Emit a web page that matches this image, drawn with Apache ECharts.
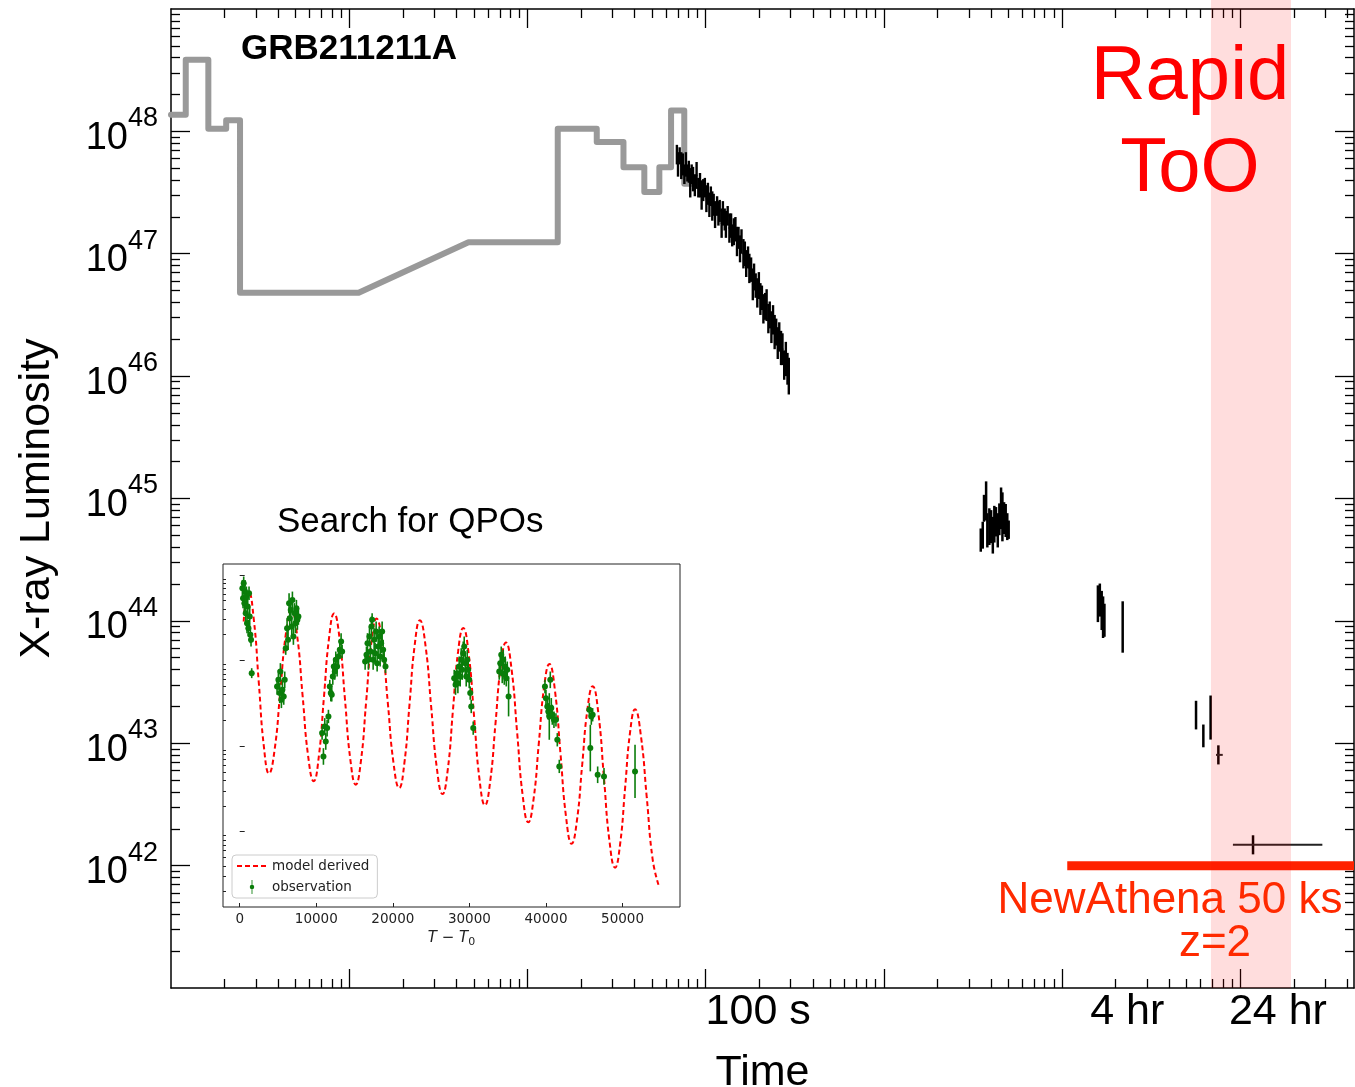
<!DOCTYPE html>
<html>
<head>
<meta charset="utf-8">
<title>GRB211211A X-ray light curve</title>
<script src="https://cdn.jsdelivr.net/npm/echarts@6/dist/echarts.min.js"></script>
<style>
  html, body { margin: 0; padding: 0; background: #fff; }
  #main { width: 1355px; height: 1087px; }
</style>
</head>
<body>
<div id="main"></div>
<script>
// ---------------- data ----------------
// Prompt emission, vertices of the stepped light curve (time in s, luminosity in erg/s)
const promptTime = [0.1, 0.121, 0.121, 0.162, 0.162, 0.204, 0.204, 0.244, 0.244, 1.13, 4.67, 14.8, 14.8, 24.5, 24.5, 34.6, 34.6, 45.3, 45.3, 55.0, 55.0, 64.0, 64.0, 75.9, 75.9, 86.7];
const promptLum = [1.37e48, 1.37e48, 3.85e48, 3.85e48, 1.05e48, 1.05e48, 1.23e48, 1.23e48, 4.8e46, 4.8e46, 1.24e47, 1.24e47, 1.05e48, 1.05e48, 8.2e47, 8.2e47, 5.1e47, 5.1e47, 3.2e47, 3.2e47, 5.1e47, 5.1e47, 1.48e48, 1.48e48, 3.73e47, 3.73e47];

// Early X-ray afterglow (dense window): time (s), log10 luminosity, 1-sigma error (dex)
const xrtTime = [69, 70, 71.5, 73, 74.5, 76, 77.5, 79, 80.5, 82, 83.5, 85, 87, 89, 91, 93, 95, 97, 99, 101,
  103, 105, 107, 109, 111, 113, 116, 118, 120, 123, 125, 128, 130, 133, 136, 139, 141, 144, 147, 150,
  153, 156, 159, 163, 166, 169, 173, 176, 180, 184, 187, 191, 195, 199, 203, 207, 211, 216, 220, 225,
  229, 234, 239, 244, 249, 254, 259, 265, 270, 276, 282, 288, 293];
const xrtLogL = [47.81, 47.73, 47.80, 47.72, 47.73, 47.65, 47.73, 47.66, 47.67, 47.58, 47.65, 47.61, 47.56, 47.64, 47.54, 47.56, 47.48, 47.52, 47.54, 47.45,
  47.49, 47.40, 47.47, 47.39, 47.40, 47.32, 47.39, 47.33, 47.35, 47.25, 47.33, 47.28, 47.24, 47.31, 47.21, 47.23, 47.15, 47.18, 47.20, 47.10,
  47.13, 47.04, 47.10, 47.00, 47.00, 46.92, 46.97, 46.88, 46.87, 46.75, 46.81, 46.74, 46.68, 46.74, 46.63, 46.64, 46.55, 46.57, 46.58, 46.47,
  46.50, 46.40, 46.46, 46.36, 46.36, 46.27, 46.32, 46.23, 46.22, 46.09, 46.14, 46.06, 46.00];
const xrtErr = [0.08, 0.10, 0.07, 0.11, 0.09, 0.08, 0.10, 0.07, 0.09, 0.12, 0.08, 0.10, 0.09, 0.11, 0.08, 0.10, 0.12, 0.09, 0.08, 0.11,
  0.09, 0.10, 0.08, 0.12, 0.09, 0.11, 0.08, 0.10, 0.09, 0.12, 0.10, 0.09, 0.11, 0.08, 0.12, 0.10, 0.09, 0.11, 0.10, 0.12,
  0.09, 0.11, 0.10, 0.12, 0.10, 0.11, 0.09, 0.12, 0.10, 0.13, 0.11, 0.10, 0.12, 0.11, 0.13, 0.10, 0.12, 0.11, 0.13, 0.12,
  0.11, 0.13, 0.12, 0.14, 0.11, 0.13, 0.12, 0.14, 0.13, 0.12, 0.14, 0.13, 0.15];

// Later X-ray observations: time (s), log10 luminosity, error (dex), time bin edges (null = narrow bin)
const lateTime = [3500, 3590, 3650, 3750, 3810, 3910, 4000, 4090, 4170, 4260, 4360, 4450, 4550, 4630, 4730, 4830, 4930, 5020,
  15900, 16300, 16700, 17000, 17300, 21900,
  56500, 62100, 68200, 75400,
  118000];
const lateLogL = [44.66, 44.70, 44.92, 44.98, 44.74, 44.77, 44.77, 44.70, 44.79, 44.81, 44.74, 44.83, 44.92, 44.85, 44.84, 44.82, 44.77, 44.745,
  44.14, 44.17, 44.085, 44.03, 44.005, 43.95,
  43.23, 43.06, 43.21, 42.905,
  42.17];
const lateErr = [0.095, 0.11, 0.11, 0.16, 0.14, 0.15, 0.135, 0.15, 0.15, 0.12, 0.14, 0.13, 0.17, 0.20, 0.13, 0.135, 0.11, 0.075,
  0.15, 0.135, 0.16, 0.17, 0.135, 0.21,
  0.117, 0.093, 0.18, 0.078,
  0.078];
const lateTmin = [null, null, null, null, null, null, null, null, null, null, null, null, null, null, null, null, null, null,
  null, null, null, null, null, null,
  null, null, null, 73100,
  91000];
const lateTmax = [null, null, null, null, null, null, null, null, null, null, null, null, null, null, null, null, null, null,
  null, null, null, null, null, null,
  null, null, null, 79800,
  289000];

// NewAthena 50 ks sensitivity at z=2, and the rapid ToO window
const athenaStart = 10700;
const athenaLum = 1e42;
const tooStart = 68500;
const tooEnd = 192800;

// Time-axis labels
const timeTickValues = [100, 14400, 86400];
const timeTickTexts = ['100 s', '4 hr', '24 hr'];

// QPO inset: model curve (T - T0 in s, log10 rate)
const modelTime = [523, 840, 1160, 1828, 2495, 3163, 3830, 4563, 5295, 6028, 6760, 7488, 8215, 8943, 9670,
  10335, 11000, 11665, 12330, 13038, 13745, 14453, 15160, 15838, 16515, 17193, 17870, 18610, 19350, 20090, 20830,
  21505, 22180, 22855, 23530, 24270, 25010, 25750, 26490, 27165, 27840, 28515, 29190, 29900, 30610, 31320, 32030,
  32715, 33400, 34085, 34770, 35500, 36230, 36960, 37690, 38378, 39065, 39753, 40440, 41168, 41895, 42623, 43350,
  44038, 44725, 45413, 46100, 46830, 47560, 48290, 49020, 49673, 50325, 50978, 51630, 52395, 53160, 53925, 54690];
const modelLogRate = [0.455, 0.72, 0.80, 0.49, -0.26, -1.01, -1.32, -1.04, -0.365, 0.31, 0.59, 0.30, -0.41, -1.12, -1.41,
  -1.12, -0.43, 0.26, 0.55, 0.26, -0.45, -1.16, -1.45, -1.17, -0.48, 0.21, 0.49, 0.20, -0.50, -1.20, -1.49,
  -1.20, -0.51, 0.18, 0.47, 0.17, -0.545, -1.26, -1.56, -1.28, -0.59, 0.10, 0.38, 0.08, -0.655, -1.39, -1.69,
  -1.41, -0.74, -0.07, 0.21, -0.10, -0.84, -1.58, -1.89, -1.62, -0.965, -0.31, -0.04, -0.35, -1.09, -1.83, -2.14,
  -1.87, -1.22, -0.57, -0.30, -0.61, -1.36, -2.11, -2.42, -2.15, -1.495, -0.84, -0.57, -0.88, -1.60, -2.32, -2.62];

// QPO inset: observed points (T - T0 in s, log10 rate, error in dex)
const qpoTime = [348, 436, 523, 610, 697, 784, 871, 958, 1046, 1133, 1220, 1307, 1394, 1481, 1568,
  4879, 5054, 5228, 5315, 5446, 5577, 5751, 5882, 6012, 6187, 6317, 6448, 6535, 6666, 6797, 6884, 7014, 7145, 7276, 7407, 7537, 7668,
  10761, 10935, 11110, 11240, 11415, 11589, 11763, 11894, 12024, 12155, 12286, 12417, 12547, 12721, 12896, 13070, 13244, 13375,
  16381, 16556, 16687, 16817, 16948, 17079, 17209, 17296, 17427, 17557, 17688, 17819, 17949, 18080, 18211, 18341, 18472, 18603, 18734, 18864, 19039,
  28013, 28188, 28362, 28493, 28667, 28798, 28928, 29059, 29190, 29321, 29451, 29582, 29713, 29843, 29974, 30105, 30236, 30497,
  33895, 34025, 34156, 34287, 34417, 34548, 34679, 34809, 34940, 35115,
  39864, 39994, 40168, 40299, 40430, 40560, 40691, 40822, 41040, 41301, 41476, 41737,
  45658, 45789, 45919, 46094, 46747, 47575,
  51627];
const qpoLogRate = [0.844, 0.728, 0.903, 0.669, 0.805, 0.553, 0.747, 0.436, 0.630, 0.377, 0.786, 0.514, 0.300, 0.241, -0.148,
  -0.304, -0.226, -0.381, -0.128, -0.459, -0.342, -0.420, -0.226, 0.144, 0.377, 0.241, 0.669, 0.494, 0.591, 0.397, 0.708, 0.280, 0.553, 0.436, 0.611, 0.475, 0.514,
  -0.848, -1.121, -0.770, -0.946, -0.790, -0.654, -0.304, -0.381, -0.401, -0.187, -0.070, -0.128, 0.008, -0.070, 0.047, 0.125, 0.222, 0.105,
  -0.012, 0.066, 0.202, 0.008, 0.280, 0.105, 0.397, 0.475, 0.008, 0.241, 0.086, 0.339, -0.031, 0.163, 0.280, 0.047, 0.202, 0.339, 0.125, 0.008, -0.070,
  -0.206, -0.284, -0.148, -0.265, -0.070, -0.187, 0.008, -0.109, 0.086, 0.163, -0.031, -0.187, 0.008, -0.109, -0.226, -0.381, -0.537, -0.790,
  -0.128, -0.031, 0.066, -0.148, 0.008, -0.167, -0.070, -0.206, -0.109, -0.420,
  -0.304, -0.440, -0.537, -0.595, -0.654, -0.226, -0.556, -0.634, -0.693, -0.693, -0.926, -1.237,
  -0.576, -1.023, -0.654, -0.634, -1.335, -1.354,
  -1.296];
const qpoErr = [0.097, 0.117, 0.078, 0.097, 0.136, 0.117, 0.117, 0.117, 0.117, 0.097, 0.078, 0.117, 0.097, 0.078, 0.058,
  0.097, 0.117, 0.117, 0.097, 0.097, 0.117, 0.097, 0.097, 0.078, 0.117, 0.117, 0.117, 0.136, 0.117, 0.117, 0.097, 0.097, 0.117, 0.117, 0.097, 0.117, 0.097,
  0.078, 0.097, 0.097, 0.097, 0.097, 0.078, 0.078, 0.097, 0.078, 0.097, 0.097, 0.097, 0.097, 0.117, 0.097, 0.097, 0.097, 0.078,
  0.097, 0.097, 0.117, 0.117, 0.117, 0.117, 0.117, 0.078, 0.117, 0.136, 0.117, 0.117, 0.097, 0.136, 0.117, 0.117, 0.117, 0.117, 0.117, 0.097, 0.078,
  0.097, 0.117, 0.097, 0.117, 0.117, 0.117, 0.136, 0.117, 0.136, 0.117, 0.136, 0.117, 0.117, 0.097, 0.097, 0.078, 0.078, 0.078,
  0.097, 0.117, 0.097, 0.117, 0.117, 0.117, 0.117, 0.097, 0.097, 0.233,
  0.078, 0.097, 0.117, 0.097, 0.272, 0.097, 0.117, 0.117, 0.097, 0.078, 0.078, 0.078,
  0.078, 0.272, 0.097, 0.078, 0.097, 0.097,
  0.311];

// ---------------- axis ranges ----------------
const xMin = 0.1, xMax = 4.35e5;
const yMin = 1e41, yMax = 1e49;
const bandTop = 1.2e49;   // the ToO band runs up to the page edge, past the frame
const insetXMin = -2180, insetXMax = 57500;
const insetYMin = 1.32e-3, insetYMax = 13.4;
const insetXTicks = [0, 10000, 20000, 30000, 40000, 50000];

const FONT = '"Liberation Sans", Arial, Helvetica, sans-serif';
const MPL_FONT = '"DejaVu Sans", sans-serif';

// minor log ticks 2..9 x 10^e
function logMinors(eLo, eHi, vMin, vMax) {
  const out = [];
  for (let e = eLo; e <= eHi; e++) {
    for (let k = 2; k <= 9; k++) {
      const v = k * Math.pow(10, e);
      if (v > vMin && v < vMax) out.push(v);
    }
  }
  return out;
}
function logMajors(eLo, eHi, vMin, vMax) {
  const out = [];
  for (let e = eLo; e <= eHi; e++) {
    const v = Math.pow(10, e);
    if (v >= vMin && v <= vMax) out.push(v);
  }
  return out;
}

const pw = v => Math.pow(10, v);

// ---------------- series data ----------------
const promptData = promptTime.map((t, i) => [t, promptLum[i]]);

// contiguous time bins: edges halfway (in log) between neighbouring samples
const xrtData = xrtTime.map((t, i) => {
  const L = pw(xrtLogL[i]);
  const lo = i > 0 ? Math.sqrt(xrtTime[i - 1] * t) : t;
  const hi = i < xrtTime.length - 1 ? Math.sqrt(xrtTime[i + 1] * t) : t;
  return [t, L * pw(-xrtErr[i]), L * pw(xrtErr[i]), L, lo, hi];
});
const lateData = lateTime.map((t, i) => {
  const L = pw(lateLogL[i]);
  return [t, L * pw(-lateErr[i]), L * pw(lateErr[i]), L, lateTmin[i] || t, lateTmax[i] || t];
});

const modelData = modelTime.map((t, i) => [t, pw(modelLogRate[i])]);
const qpoPoints = qpoTime.map((t, i) => [t, pw(qpoLogRate[i])]);
const qpoBars = qpoTime.map((t, i) => {
  const r = pw(qpoLogRate[i]);
  return [t, r * pw(-qpoErr[i]), r * pw(qpoErr[i]), r, t, t];
});

// vertical error bar plus optional horizontal time-bin bar
function errorBarRenderer(color, width, hColor, hWidth) {
  return function (params, api) {
    const t = api.value(0), lo = api.value(1), hi = api.value(2), lum = api.value(3);
    const t0 = api.value(4), t1 = api.value(5);
    const a = api.coord([t, lo]), b = api.coord([t, hi]);
    const children = [{
      type: 'line',
      shape: { x1: a[0], y1: a[1], x2: b[0], y2: b[1] },
      style: { stroke: color, lineWidth: width }
    }];
    if (t1 > t0) {
      const c = api.coord([t0, lum]), d = api.coord([t1, lum]);
      children.push({
        type: 'line',
        shape: { x1: c[0], y1: c[1], x2: d[0], y2: d[1] },
        style: { stroke: hColor || color, lineWidth: hWidth || 2 }
      });
    }
    return { type: 'group', children };
  };
}

// ---------------- axes ----------------
function frameAxis(opts) {
  const base = {
    gridIndex: 0,
    axisLine: { show: false, onZero: false, lineStyle: { color: '#000', width: 1.5 } },
    axisTick: { show: true, inside: true, length: 19, lineStyle: { color: '#000', width: 1.3 } },
    axisLabel: { show: false },
    splitLine: { show: false },
    minorTick: { show: false },
    minorSplitLine: { show: false }
  };
  return Object.assign(base, opts);
}

const xMajorTicks = logMajors(-1, 6, xMin * 1.001, xMax);
const xMinorTicks = logMinors(-1, 5, xMin, xMax);
const yMajorTicks = logMajors(41, 49, yMin * 1.001, yMax / 1.001);
const yMinorTicks = logMinors(41, 48, yMin, yMax);

const tickLine = { color: '#000', width: 1.3 };
const frameLine = { show: true, onZero: false, lineStyle: { color: '#000', width: 1.5 } };

const xAxes = [
  // bottom, major ticks + labels
  frameAxis({
    type: 'log', min: xMin, max: xMax, position: 'bottom',
    axisLine: frameLine,
    axisTick: { show: true, inside: true, length: 19, customValues: xMajorTicks, lineStyle: tickLine },
    axisLabel: {
      show: true, customValues: timeTickValues, margin: 3, align: 'left',
      fontFamily: FONT, fontSize: 43, color: '#000',
      formatter: function (v) {
        for (let i = 0; i < timeTickValues.length; i++) {
          if (Math.abs(Math.log10(v / timeTickValues[i])) < 1e-4) return timeTickTexts[i];
        }
        return '';
      }
    },
    name: 'Time', nameLocation: 'middle', nameGap: 64,
    nameTextStyle: { fontFamily: FONT, fontSize: 43, color: '#000' }
  }),
  // bottom, minor ticks
  frameAxis({
    type: 'log', min: xMin, max: xMax, position: 'bottom',
    axisTick: { show: true, inside: true, length: 9, customValues: xMinorTicks, lineStyle: tickLine }
  }),
  // top, major ticks
  frameAxis({
    type: 'log', min: xMin, max: xMax, position: 'top',
    axisLine: frameLine,
    axisTick: { show: true, inside: true, length: 19, customValues: xMajorTicks, lineStyle: tickLine }
  }),
  // top, minor ticks
  frameAxis({
    type: 'log', min: xMin, max: xMax, position: 'top',
    axisTick: { show: true, inside: true, length: 9, customValues: xMinorTicks, lineStyle: tickLine }
  }),
  // inset: T - T0
  {
    gridIndex: 1, type: 'value', min: insetXMin, max: insetXMax, position: 'bottom',
    axisLine: { show: false },
    axisTick: { show: true, inside: true, length: 4, customValues: insetXTicks, lineStyle: { color: '#222', width: 1 } },
    axisLabel: {
      show: true, customValues: insetXTicks, margin: 5, fontFamily: MPL_FONT, fontSize: 13.5, color: '#222',
      formatter: v => String(Math.round(v))
    },
    splitLine: { show: false },
    name: '{i|T − T}{s|0}', nameLocation: 'middle', nameGap: 22,
    nameTextStyle: {
      rich: {
        i: { fontFamily: MPL_FONT, fontStyle: 'italic', fontSize: 15, color: '#222' },
        s: { fontFamily: MPL_FONT, fontSize: 11, color: '#222', verticalAlign: 'bottom', padding: [8, 0, 0, 0] }
      }
    }
  }
];

function lumLabel(v) {
  const e = Math.round(Math.log10(v));
  return '{b|10}{s|' + e + '}';
}

const yAxes = [
  // left, major ticks + labels
  frameAxis({
    type: 'log', min: yMin, max: yMax, position: 'left',
    axisLine: frameLine,
    axisTick: { show: true, inside: true, length: 19, customValues: yMajorTicks, lineStyle: tickLine },
    axisLabel: {
      show: true, customValues: yMajorTicks, margin: 13, formatter: lumLabel,
      rich: {
        b: { fontFamily: FONT, fontSize: 38, color: '#000', lineHeight: 52, verticalAlign: 'bottom' },
        s: { fontFamily: FONT, fontSize: 27, color: '#000', verticalAlign: 'top' }
      }
    },
    name: 'X-ray Luminosity', nameLocation: 'middle', nameGap: 112, nameRotate: 90,
    nameTextStyle: { fontFamily: FONT, fontSize: 43, color: '#000' }
  }),
  // left, minor ticks
  frameAxis({
    type: 'log', min: yMin, max: yMax, position: 'left',
    axisTick: { show: true, inside: true, length: 9, customValues: yMinorTicks, lineStyle: tickLine }
  }),
  // right, major ticks
  frameAxis({
    type: 'log', min: yMin, max: yMax, position: 'right',
    axisLine: frameLine,
    axisTick: { show: true, inside: true, length: 19, customValues: yMajorTicks, lineStyle: tickLine }
  }),
  // right, minor ticks
  frameAxis({
    type: 'log', min: yMin, max: yMax, position: 'right',
    axisTick: { show: true, inside: true, length: 9, customValues: yMinorTicks, lineStyle: tickLine }
  }),
  // inset rate axis, major ticks
  {
    gridIndex: 1, type: 'log', min: insetYMin, max: insetYMax, position: 'left',
    axisLine: { show: false },
    axisTick: { show: true, inside: true, length: 5, customValues: logMajors(-3, 1, insetYMin, insetYMax), lineStyle: { color: '#222', width: 1 } },
    axisLabel: { show: false }, splitLine: { show: false }
  },
  // inset rate axis, minor ticks
  {
    gridIndex: 1, type: 'log', min: insetYMin, max: insetYMax, position: 'left',
    axisLine: { show: false },
    axisTick: { show: true, inside: true, length: 3, customValues: logMinors(-3, 1, insetYMin, insetYMax), lineStyle: { color: '#222', width: 1 } },
    axisLabel: { show: false }, splitLine: { show: false }
  }
];

// ---------------- chart ----------------
const chart = echarts.init(document.getElementById('main'), null, { renderer: 'canvas' });

const option = {
  animation: false,
  backgroundColor: '#fff',
  grid: [
    { left: 171, top: 9, width: 1183, height: 979, outerBoundsMode: 'none', containLabel: false },
    { left: 223, top: 564, width: 457, height: 343, outerBoundsMode: 'none', containLabel: false,
      show: true, borderColor: '#222', borderWidth: 1, backgroundColor: '#fff' }
  ],
  xAxis: xAxes,
  yAxis: yAxes,
  legend: {
    left: 232, top: 855, orient: 'vertical', itemGap: 7, itemWidth: 30, itemHeight: 14,
    padding: [4, 8, 4, 4], backgroundColor: 'rgba(255,255,255,0.8)',
    borderColor: '#ccc', borderWidth: 1, borderRadius: 4, selectedMode: false,
    textStyle: { fontFamily: MPL_FONT, fontSize: 13.5, color: '#222' },
    data: [
      { name: 'model derived', itemStyle: { opacity: 0 } },
      { name: 'observation', icon: 'path://M4.4,0H5.6V20H4.4Z M1.8,10A3.2,3.2 0 1 1 8.2,10A3.2,3.2 0 1 1 1.8,10Z' }
    ]
  },
  graphic: [
    { type: 'text', z: 100, style: { text: 'GRB211211A', x: 241, y: 49, textVerticalAlign: 'middle', font: 'bold 35px ' + FONT, fill: '#000' } },
    { type: 'text', z: 100, style: { text: 'Search for QPOs', x: 277, y: 522, textVerticalAlign: 'middle', font: '35px ' + FONT, fill: '#000' } },
    { type: 'text', z: 100, style: { text: 'Rapid', x: 1190, y: 78, textAlign: 'center', textVerticalAlign: 'middle', font: '76px ' + FONT, fill: '#ff0000' } },
    { type: 'text', z: 100, style: { text: 'ToO', x: 1190, y: 170, textAlign: 'center', textVerticalAlign: 'middle', font: '76px ' + FONT, fill: '#ff0000' } },
    { type: 'text', z: 100, style: { text: 'NewAthena 50 ks', x: 1170, y: 901, textAlign: 'center', textVerticalAlign: 'middle', font: '44px ' + FONT, fill: '#ff2a00' } },
    { type: 'text', z: 100, style: { text: 'z=2', x: 1215, y: 944, textAlign: 'center', textVerticalAlign: 'middle', font: '44px ' + FONT, fill: '#ff2a00' } }
  ],
  series: [
    {
      name: 'prompt', type: 'line', xAxisIndex: 0, yAxisIndex: 0, data: promptData,
      symbol: 'none', z: 2,
      lineStyle: { color: '#999', width: 6, join: 'round', cap: 'round' }
    },
    {
      name: 'afterglow', type: 'custom', xAxisIndex: 0, yAxisIndex: 0, z: 3,
      renderItem: errorBarRenderer('#000', 2.4, '#000', 1.6),
      encode: { x: [0, 4, 5], y: [1, 2, 3] },
      data: xrtData
    },
    {
      name: 'afterglow late', type: 'custom', xAxisIndex: 0, yAxisIndex: 0, z: 3,
      renderItem: errorBarRenderer('#000', 2.5, '#222', 2),
      encode: { x: [0, 4, 5], y: [1, 2, 3] },
      data: lateData
    },
    {
      name: 'NewAthena', type: 'line', xAxisIndex: 0, yAxisIndex: 0, z: 4,
      symbol: 'none',
      lineStyle: { color: '#ff2200', width: 9, cap: 'butt' },
      data: [[athenaStart, athenaLum], [xMax, athenaLum]]
    },
    {
      name: 'Rapid ToO window', type: 'custom', xAxisIndex: 0, yAxisIndex: 0, z: 6, clip: false,
      renderItem: function (params, api) {
        const a = api.coord([api.value(0), api.value(3)]);
        const b = api.coord([api.value(1), api.value(2)]);
        return {
          type: 'rect',
          shape: { x: a[0], y: a[1], width: b[0] - a[0], height: b[1] - a[1] },
          style: { fill: 'rgba(255,0,0,0.135)' }
        };
      },
      encode: { x: [0, 1], y: [2, 3] },
      data: [[tooStart, tooEnd, yMin, bandTop]]
    },
    {
      name: 'model derived', type: 'line', xAxisIndex: 4, yAxisIndex: 4, z: 8,
      symbol: 'none', smooth: 0.5,
      lineStyle: { color: '#ff0000', width: 2, type: [5, 3] },
      itemStyle: { color: '#ff0000' },
      data: modelData
    },
    {
      name: 'observation bars', type: 'custom', xAxisIndex: 4, yAxisIndex: 4, z: 9,
      renderItem: errorBarRenderer('#0a7d0a', 1.6),
      encode: { x: [0, 4, 5], y: [1, 2, 3] },
      data: qpoBars
    },
    {
      name: 'observation', type: 'scatter', xAxisIndex: 4, yAxisIndex: 4, z: 10,
      symbol: 'circle', symbolSize: 6,
      itemStyle: { color: '#0a7d0a', opacity: 1 },
      data: qpoPoints
    }
  ]
};

chart.setOption(option);
</script>
</body>
</html>
